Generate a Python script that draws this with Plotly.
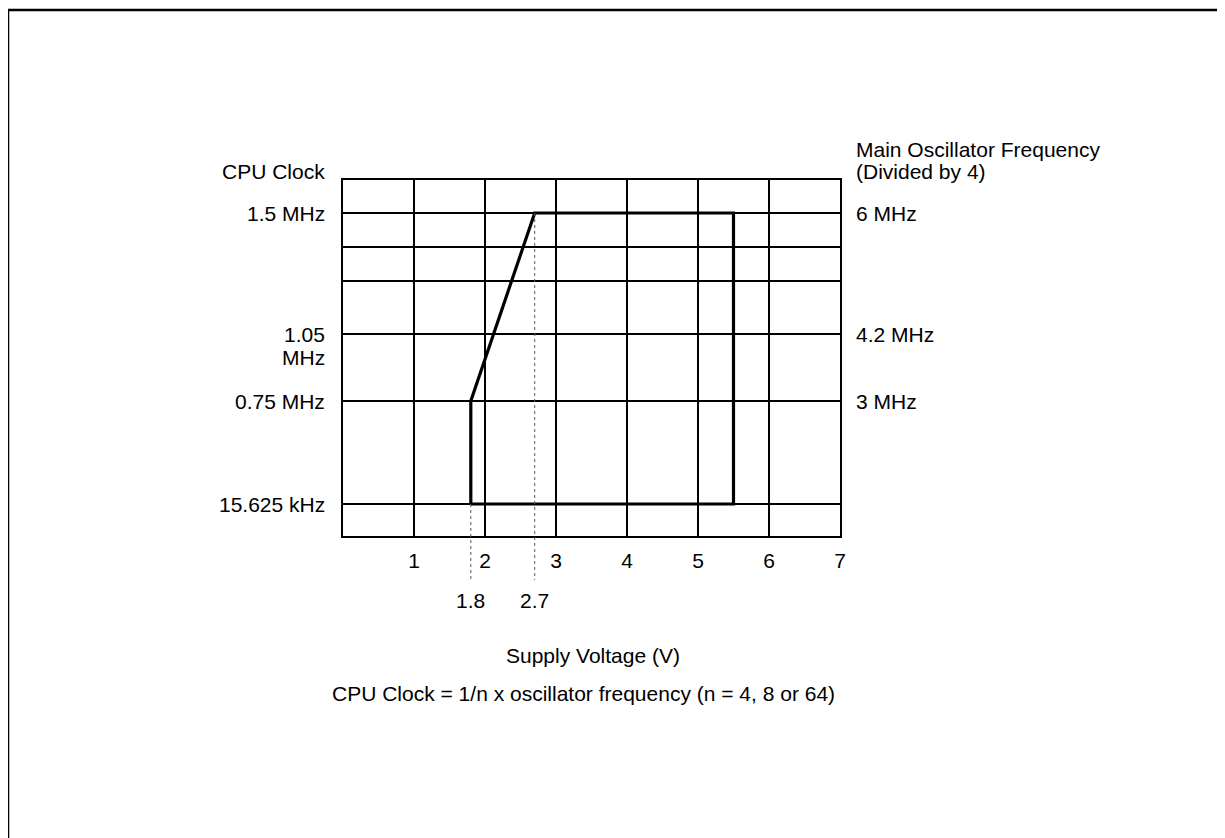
import plotly.graph_objects as go

# ---- data ----
volt_ticks = [1, 2, 3, 4, 5, 6, 7]
# schematic clock levels (grid rows), bottom to top, with their vertical position on the chart scale
level_names = ["bottom", "15.625 kHz", "0.75 MHz", "1.05 MHz", "row a", "row b", "1.5 MHz", "top"]
level_pos = [0, 32, 135, 202, 255, 289, 323, 356]
left_labels = ["", "15.625 kHz", "0.75 MHz", "1.05<br>MHz", "", "", "1.5 MHz", ""]
right_labels = ["", "", "3 MHz", "4.2 MHz", "", "", "6 MHz", ""]

# operating region outline
region_volt = [1.8, 1.8, 2.7, 5.5, 5.5, 1.8]
region_clock = ["15.625 kHz", "0.75 MHz", "1.5 MHz", "1.5 MHz", "15.625 kHz", "15.625 kHz"]

# dotted voltage markers
marker_volt = [1.8, 2.7]
marker_from = ["15.625 kHz", "1.5 MHz"]
marker_text = ["1.8", "2.7"]

left_title = "CPU Clock"
right_title = ["Main Oscillator Frequency", "(Divided by 4)"]
x_title = "Supply Voltage (V)"
note = "CPU Clock = 1/n x oscillator frequency (n = 4, 8 or 64)"

pos = dict(zip(level_names, level_pos))
ymin, ymax = level_pos[0], level_pos[-1]

OFF = 8  # page body margin
W, H = 1225 - OFF, 838 - OFF
ML, MT = 343 - OFF, 180 - OFF
plot_w, plot_h = 497, 356
MR = W - ML - plot_w
MB = H - MT - plot_h

def py(px):  # page pixel y -> paper
    return (H - MB - (px - OFF)) / plot_h

def px_x(px):  # page pixel x -> paper
    return (px - OFF - ML) / plot_w

FONT = "Liberation Sans, Arial, sans-serif"
FS = 21
TF = dict(size=FS, color="black", family=FONT)

fig = go.Figure()
fig.add_trace(go.Scatter(
    x=region_volt, y=[pos[c] for c in region_clock],
    mode="lines", line=dict(color="black", width=3.2),
    hoverinfo="skip", showlegend=False))

# dotted markers
for v, f, t in zip(marker_volt, marker_from, marker_text):
    fig.add_shape(type="line", xref="x", yref="paper",
                  x0=v, x1=v, y0=(pos[f] - ymin) / (ymax - ymin), y1=py(580),
                  line=dict(color="#555555", width=1, dash="dot"))
    fig.add_annotation(x=v, xref="x", y=py(600), yref="paper", text=t,
                       showarrow=False, xanchor="center", yanchor="middle", font=TF)

for p, lab in zip(level_pos, left_labels):
    if not lab:
        continue
    for i, line in enumerate(lab.split("<br>")):
        fig.add_annotation(x=0, xref="paper", y=p, yref="y", text=line, showarrow=False,
                           xanchor="right", yanchor="middle", xshift=-16, yshift=-23 * i,
                           font=TF)
for p, lab in zip(level_pos, right_labels):
    if not lab:
        continue
    fig.add_annotation(x=1, xref="paper", y=p, yref="y", text=lab, showarrow=False,
                       xanchor="left", yanchor="middle", xshift=14, font=TF)

fig.add_annotation(x=0, xref="paper", y=py(172), yref="paper", text=left_title,
                   showarrow=False, xanchor="right", yanchor="middle", xshift=-16, font=TF)
for i, line in enumerate(right_title):
    fig.add_annotation(x=1, xref="paper", y=py(149 + 22 * i), yref="paper", text=line,
                       showarrow=False, xanchor="left", yanchor="middle", xshift=14, font=TF)
fig.add_annotation(x=px_x(593), xref="paper", y=py(655), yref="paper", text=x_title,
                   showarrow=False, xanchor="center", yanchor="middle", font=TF)
fig.add_annotation(x=px_x(583), xref="paper", y=py(693), yref="paper", text=note,
                   showarrow=False, xanchor="center", yanchor="middle", font=TF)

# outer frame
fig.add_shape(type="rect", xref="paper", yref="paper",
              x0=px_x(8), x1=px_x(1250), y0=py(10), y1=py(870),
              line=dict(color="black", width=2.5), fillcolor="rgba(0,0,0,0)")

fig.update_layout(
    width=W, height=H, autosize=False,
    margin=dict(l=ML, r=MR, t=MT, b=MB, pad=0),
    paper_bgcolor="white", plot_bgcolor="white",
    showlegend=False,
    font=dict(family=FONT, size=FS, color="black"),
    xaxis=dict(range=[0, 7], tickvals=volt_ticks, ticktext=[str(v) for v in volt_ticks],
               showgrid=True, gridcolor="black", gridwidth=2,
               showline=True, linecolor="black", linewidth=2, mirror=True,
               zeroline=False, ticks="", ticklabelstandoff=5,
               tickfont=TF, fixedrange=True),
    yaxis=dict(range=[ymin, ymax], tickvals=level_pos, showticklabels=False,
               showgrid=True, gridcolor="black", gridwidth=2,
               showline=True, linecolor="black", linewidth=2, mirror=True,
               zeroline=False, ticks="", fixedrange=True),
)

fig.write_html("out.html")
